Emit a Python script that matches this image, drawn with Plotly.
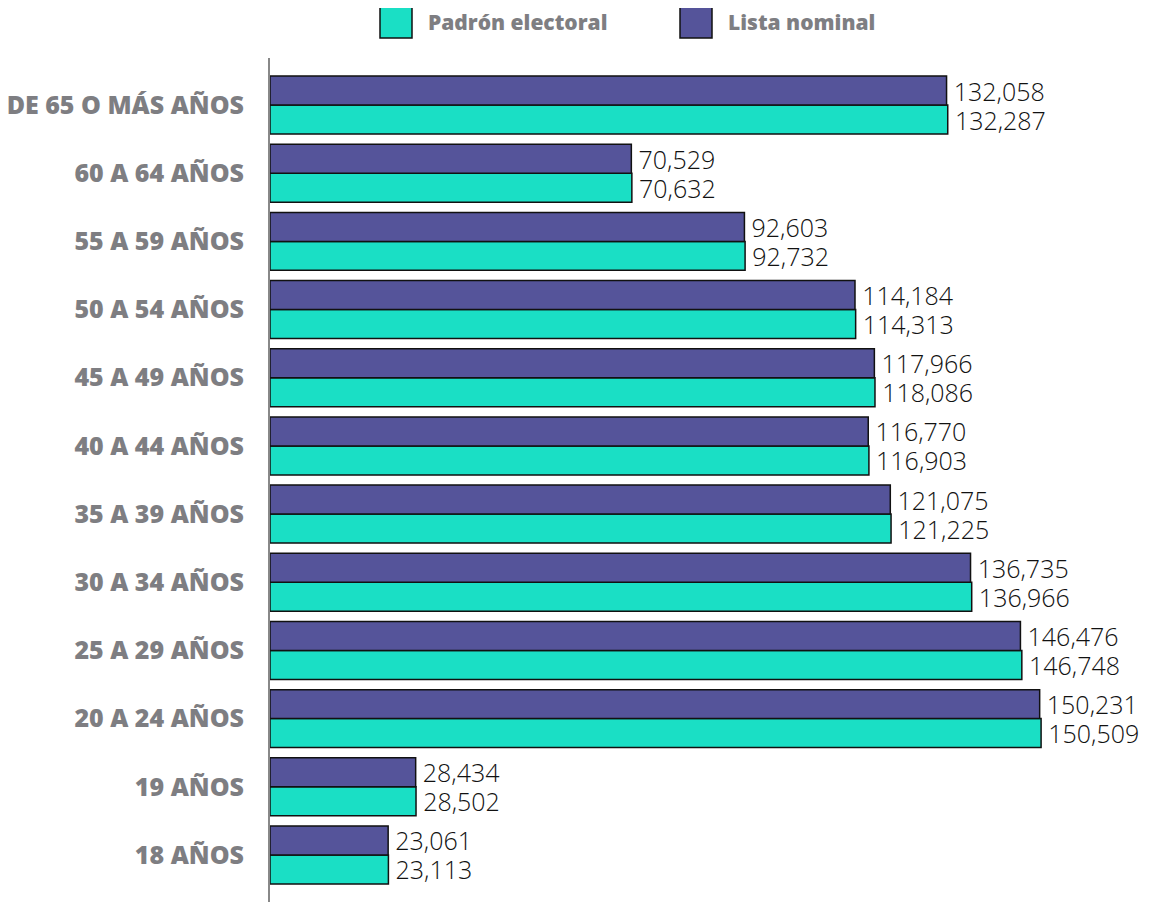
import plotly.graph_objects as go

categories = ["18 AÑOS", "19 AÑOS", "20 A 24 AÑOS", "25 A 29 AÑOS", "30 A 34 AÑOS",
              "35 A 39 AÑOS", "40 A 44 AÑOS", "45 A 49 AÑOS", "50 A 54 AÑOS",
              "55 A 59 AÑOS", "60 A 64 AÑOS", "DE 65 O MÁS AÑOS"]
padron = [23113, 28502, 150509, 146748, 136966, 121225, 116903, 118086, 114313,
          92732, 70632, 132287]
lista = [23061, 28434, 150231, 146476, 136735, 121075, 116770, 117966, 114184,
         92603, 70529, 132058]
series_names = ["Padrón electoral", "Lista nominal"]

TEAL = "#1ADFC5"
PURPLE = "#55549A"
GRAY = "#7E7E82"

fig = go.Figure()
for name, vals, col in [(series_names[0], padron, TEAL), (series_names[1], lista, PURPLE)]:
    fig.add_trace(go.Bar(
        name=name, y=categories, x=vals, orientation="h",
        marker=dict(color=col, line=dict(color="#111111", width=1.5)),
        texttemplate="\u2009%{x:,}", textposition="outside", cliponaxis=False,
        constraintext="none",
        textfont=dict(family="Open Sans", size=25, color="#111111", weight=300),
        showlegend=False,
    ))

fig.update_layout(
    width=1145, height=894,
    margin=dict(l=262, r=10, t=50, b=0, autoexpand=False),
    barmode="group", bargap=0.15, bargroupgap=0,
    plot_bgcolor="white", paper_bgcolor="white",
    xaxis=dict(range=[0, 170400], visible=False),
    yaxis=dict(range=[-0.69, 11.69], showline=True, linecolor="#888888", linewidth=2,
               ticks="", showgrid=False, ticklabelstandoff=19,
               tickfont=dict(family="Open Sans", size=25, color=GRAY, weight=800)),
)

# legend drawn as squares + text (screen coords -> paper)
def px(x):
    return (x - 270) / 873

def py(y):
    return (902 - y) / 844

legend_items = [(series_names[0], TEAL, 380), (series_names[1], PURPLE, 680)]
for name, col, x0 in legend_items:
    fig.add_shape(type="rect", xref="paper", yref="paper",
                  x0=px(x0), x1=px(x0 + 32), y0=py(38), y1=py(6),
                  fillcolor=col, line=dict(color="#111111", width=1.5), layer="above")
    fig.add_annotation(xref="paper", yref="paper", x=px(x0 + 46), y=py(22),
                       text=name, showarrow=False, xanchor="left", yanchor="middle",
                       font=dict(family="Open Sans", size=21, color=GRAY, weight=800))

fig.write_html("out.html")
